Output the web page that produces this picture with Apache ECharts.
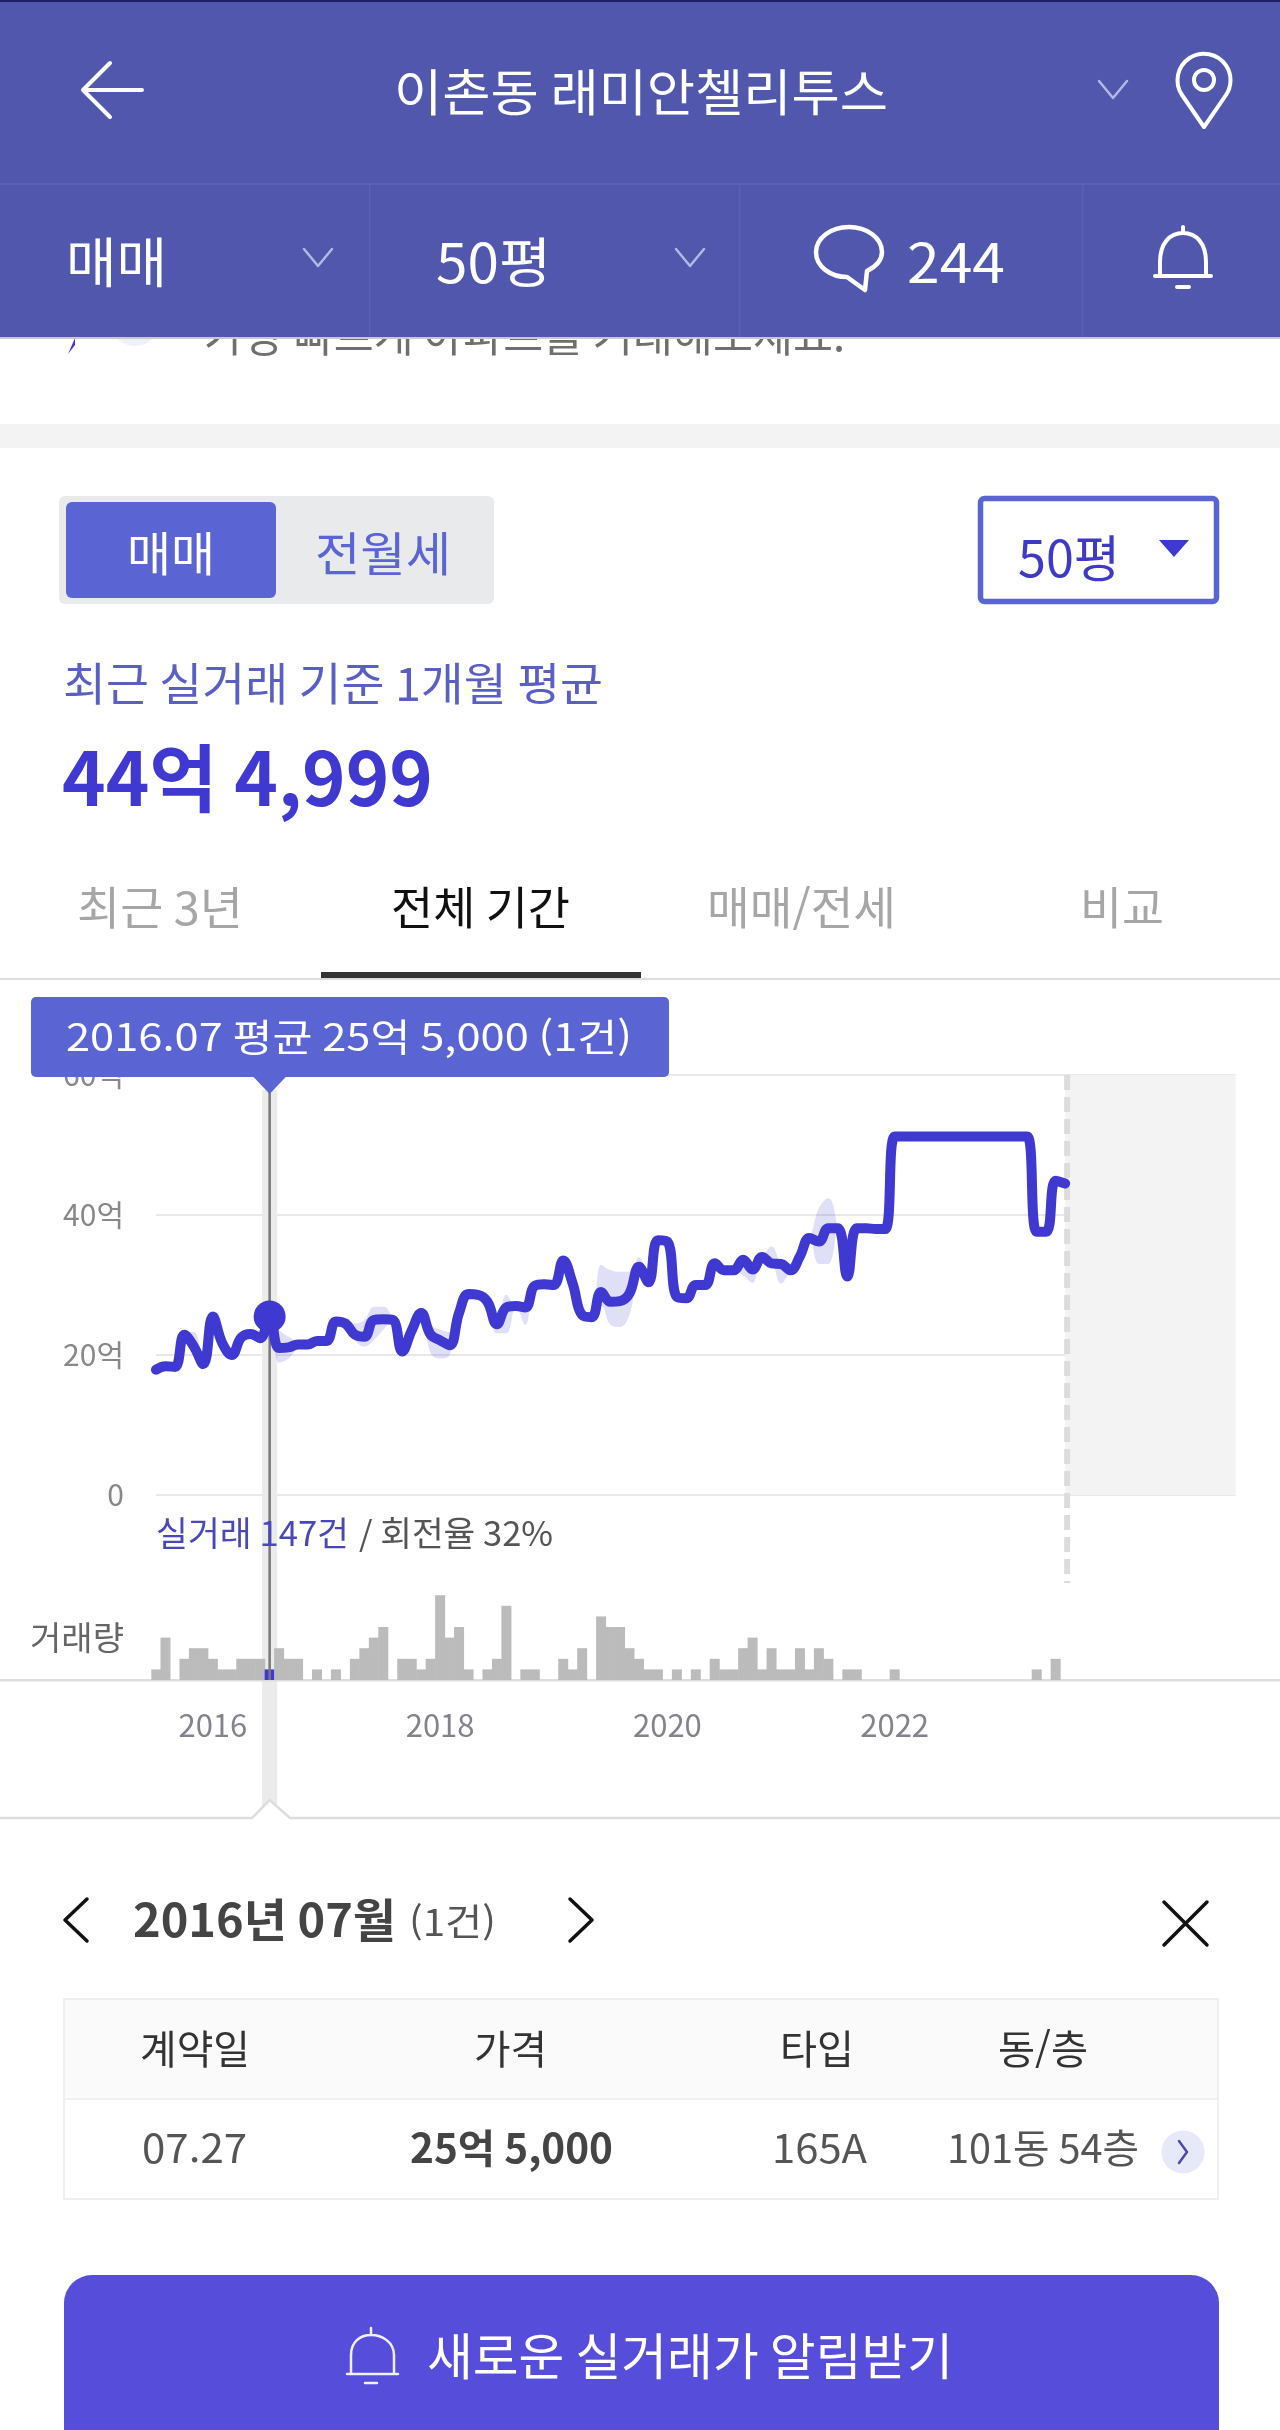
<!DOCTYPE html>
<html lang="ko">
<head>
<meta charset="utf-8">
<title>이촌동 래미안첼리투스</title>
<script src="https://cdn.jsdelivr.net/npm/echarts@6/dist/echarts.min.js"></script>
<style>html,body{margin:0;padding:0;background:#fff}#c{width:1280px;height:2430px}</style>
</head>
<body>
<div id="c"></div>
<script>
const FONT = '"Noto Sans CJK KR","Noto Sans",sans-serif';

const months = ['2015.07','2015.08','2015.09','2015.10','2015.11','2015.12',
  '2016.01','2016.02','2016.03','2016.04','2016.05','2016.06','2016.07','2016.08','2016.09','2016.10','2016.11','2016.12',
  '2017.01','2017.02','2017.03','2017.04','2017.05','2017.06','2017.07','2017.08','2017.09','2017.10','2017.11','2017.12',
  '2018.01','2018.02','2018.03','2018.04','2018.05','2018.06','2018.07','2018.08','2018.09','2018.10','2018.11','2018.12',
  '2019.01','2019.02','2019.03','2019.04','2019.05','2019.06','2019.07','2019.08','2019.09','2019.10','2019.11','2019.12',
  '2020.01','2020.02','2020.03','2020.04','2020.05','2020.06','2020.07','2020.08','2020.09','2020.10','2020.11','2020.12',
  '2021.01','2021.02','2021.03','2021.04','2021.05','2021.06','2021.07','2021.08','2021.09','2021.10','2021.11','2021.12',
  '2022.01','2022.02','2022.03','2022.04','2022.05','2022.06','2022.07','2022.08','2022.09','2022.10','2022.11','2022.12',
  '2023.01','2023.02','2023.03','2023.04','2023.05','2023.06','2023.07','2023.08','2023.09','2023.10','2023.11','2023.12',
  '2024.01','2024.02','2024.03','2024.04','2024.05','2024.06','2024.07','2024.08','2024.09','2024.10','2024.11','2024.12','2025.01'];

const yearTicks = ['2016.01','2018.01','2020.01','2022.01'];
const priceTicks = [0,20,40,60];

const price = [17.9,18.4,18.3,22.9,21.2,18.7,25.5,21.7,20,22.5,
  23,22.4,25.5,21,21.1,21.5,21.5,22,22,24.8,
  24.5,22.9,22.6,25,25.1,25,20.5,23.5,26,22.9,
  22.1,21.4,26,28.7,28.6,27.6,24.4,26.8,27,26.8,
  29.9,30.1,30,33.5,30.2,25.7,25.4,29,27.6,27.7,
  28.8,32.6,30.4,36.4,36.2,28.3,28.1,30,30,33.1,
  32.1,32.1,33.6,32.2,34,33.1,33,32.1,34.1,36.7,
  36.2,38.1,38.1,31.2,38.1,38.1,38,38,51.2,51.2,
  51.2,51.2,51.2,51.2,51.2,51.2,51.2,51.2,51.2,51.2,
  51.2,51.2,51.2,37.6,37.6,44.9,44.5];

const bandHigh = [17.9,18.4,18.3,23.3,23.3,19,25.5,21.7,20,22.5,
  23,23.7,25.5,23.6,22.6,21.9,21.5,22,22,24.8,
  24.5,24.5,25,26.9,26.9,25,20.5,23.5,26,24.3,
  23.6,23.3,26,28.7,28.6,27.6,24.4,28.6,27,26.8,
  29.9,30.1,30,33.5,30.2,25.7,25.4,32.9,32.1,31.9,
  31.9,34,30.4,36.4,36.2,28.3,28.1,30,30,33.1,
  32.1,32.1,33.6,32.9,34,35.5,33,32.1,35.5,36.7,
  41,42.4,38.1,31.2,38.1,38.1,38,38,51.2,51.2,
  51.2,51.2,51.2,51.2,51.2,51.2,51.2,51.2,51.2,51.2,
  51.2,51.2,51.2,37.6,37.6,44.9,44.5];

const bandLow = [17.9,18.4,18.3,22.9,20,18.4,25.5,21.7,20,22.5,
  23,21.6,25.5,18.9,19.5,21,21.5,22,22,24.8,
  24.5,22.1,21.2,22.1,23.6,25,20.5,23.5,26,20.3,
  19.5,20,26,28.7,28.6,27.6,23.1,23.1,27,24.3,
  29.9,30.1,30,33.5,30.2,25.7,25.4,27,24.3,24,
  25.7,31.2,30.4,36.4,36.2,28.3,28.1,30,30,33.1,
  32.1,32.1,31.4,30.3,34,33.3,30.2,32.1,34.1,36.7,
  33,33,38.1,31.2,38.1,38.1,38,38,51.2,51.2,
  51.2,51.2,51.2,51.2,51.2,51.2,51.2,51.2,51.2,51.2,
  51.2,51.2,51.2,37.6,37.6,44.9,44.5];

const volume = [1,4,0,2,3,3,2,1,1,2,
  2,2,1,3,2,2,0,1,0,1,
  0,2,3,4,5,0,2,2,1,2,
  8,4,5,1,0,1,2,7,0,1,
  1,0,0,2,1,3,0,6,5,5,
  3,2,1,1,0,1,0,1,0,2,
  1,1,3,4,1,3,1,1,3,1,
  3,2,0,1,1,0,0,0,1,0,
  0,0,0,0,0,0,0,0,0,0,
  0,0,0,1,0,2,0];

const selectedMonth = '2016.07';
const selectedPrice = 25.5;
const lastMonth = '2023.07';

const C = {blue:'#3f39d1', mid:'#5a64d2', head:'#5057ac', grid:'#e8e8e8', axis:'#888'};
const chart = echarts.init(document.getElementById('c'), null, {width:1280, height:2430});

const selIdx = months.indexOf(selectedMonth);
const SMOOTH = 0.42;
chart.setOption({
  animation:false,
  backgroundColor:'#fff',
  textStyle:{fontFamily:FONT},
  grid:[
    {left:156, top:1075, width:1079.6, height:420},
    {left:151.3, top:1574, width:1089, height:106}
  ],
  xAxis:[
    {type:'category', gridIndex:0, data:months, boundaryGap:false,
     axisLine:{show:false}, axisTick:{show:false}, axisLabel:{show:false}, splitLine:{show:false}},
    {type:'category', gridIndex:1, data:months, boundaryGap:true,
     axisLine:{show:false}, axisTick:{show:false}, splitLine:{show:false},
     axisLabel:{margin:30, fontSize:31, color:'#83838d', fontFamily:FONT,
       interval:(i,v)=>yearTicks.includes(v), formatter:v=>v.slice(0,4)}}
  ],
  yAxis:[
    {type:'value', gridIndex:0, min:priceTicks[0], max:priceTicks[3], interval:20,
     axisLine:{show:false}, axisTick:{show:false},
     splitLine:{show:true, lineStyle:{color:C.grid, width:2}},
     axisLabel:{margin:32, fontSize:30, color:C.axis, fontFamily:FONT, formatter:v=>v===0?'0':v+'억'}},
    {type:'value', gridIndex:1, min:0, max:10,
     axisLine:{show:false}, axisTick:{show:false}, axisLabel:{show:false}, splitLine:{show:false}}
  ],
  series:[
    {name:'low', type:'line', xAxisIndex:0, yAxisIndex:0, stack:'band', data:bandLow, smooth:SMOOTH, smoothConstraint:false,
     symbol:'none', lineStyle:{width:0, opacity:0}, silent:true, z:2,
     markArea:{silent:true, itemStyle:{color:'#f3f3f3'}, data:[[{xAxis:lastMonth},{xAxis:months[months.length-1]}]]}},
    {name:'range', type:'line', xAxisIndex:0, yAxisIndex:0, stack:'band', data:bandHigh.map((h,i)=>h-bandLow[i]), smooth:SMOOTH, smoothConstraint:false,
     symbol:'none', lineStyle:{width:0, opacity:0}, areaStyle:{color:C.blue, opacity:0.16}, silent:true, z:2},
    {name:'평균', type:'line', xAxisIndex:0, yAxisIndex:0, data:price, smooth:SMOOTH, smoothConstraint:false, symbol:'none',
     lineStyle:{color:C.blue, width:10, cap:'round', join:'round'}, z:4},
    {name:'선택', type:'scatter', xAxisIndex:0, yAxisIndex:0, data:[[selectedMonth,selectedPrice]],
     symbolSize:32, itemStyle:{color:C.blue, opacity:1}, z:6},
    {name:'거래량', type:'bar', xAxisIndex:1, yAxisIndex:1, barWidth:10, barGap:0, z:2,
     data:volume.map((v,i)=>i===selIdx?{value:v,itemStyle:{color:C.blue}}:v),
     itemStyle:{color:'#bbbbbb'}}
  ]
});

const selX = chart.convertToPixel({xAxisIndex:0}, selectedMonth);
const dashX = chart.convertToPixel({xAxisIndex:0}, lastMonth) + 2;

const meas = document.createElement('canvas').getContext('2d');
function T(text,x0,x1,yc,size,fill,weight,z){
  const w = weight||400;
  meas.font = w+' '+size+'px "Noto Sans CJK KR"';
  const m = meas.measureText(text).width;
  return {type:'text', x:x0, y:yc, scaleX:(x1-x0)/m, z:z||20, silent:true,
    style:{text, fill, fontSize:size, fontWeight:w, fontFamily:'Noto Sans CJK KR',
      align:'left', verticalAlign:'middle', textAlign:'left', textVerticalAlign:'middle'}};
}
function R(x,y,w,h,fill,r,z,stroke,lw){
  return {type:'rect', shape:{x,y,width:w,height:h,r:r||0}, z:z||10, silent:true,
    style:{fill:fill||'transparent', stroke:stroke||null, lineWidth:lw||0}};
}
let pathCount = 0;
function P(d,stroke,lw,z,fill){
  const name = 'icon'+(pathCount++);
  echarts.graphic.registerShape(name, echarts.graphic.extendPath(d, {}));
  return {type:name, z:z||20, silent:true,
    style:{stroke, lineWidth:lw, fill:fill||'transparent', lineCap:'round', lineJoin:'round'}};
}

const g = [];
// page under the header
g.push(T('가장 빠르게 아파트를 거래해보세요.',204,845,335,44,'#6f6f6f',400,5));
g.push({type:'polygon',shape:{points:[[68,354],[75,338],[75,345]]},z:5,silent:true,style:{fill:C.blue}});
g.push({type:'circle',shape:{cx:135,cy:322,r:24},z:5,silent:true,style:{fill:'#eef0fb'}});
g.push(R(0,424,1280,24,'#f3f3f3',0,5));

// header
g.push(R(0,0,1280,338,C.head,0,40));
g.push(R(0,0,1280,2,'#1f1f66',0,41));
g.push(R(0,183,1280,2,'#5a61b6',0,41));
[369,739,1082].forEach(x=>g.push(R(x,183,1.5,155,'#5a61b6',0,41)));
g.push(R(0,337,1280,2,'#c9c9d2',0,41));
g.push(P('M110 63 L83 90 L110 117 M84 90 L142 90','#fff',4,42));
g.push(T('이촌동 래미안첼리투스',394,888,92,50,'#fff',400,42));
const chev=(x,y)=>P(`M${x-14} ${y-9} L${x} ${y+8} L${x+14} ${y-9}`,'#b4b8e4',2.5,42);
g.push(chev(1113,90));
g.push(P('M1204 127 L1182 95 A26.5 26.5 0 1 1 1226 95 Z','#fff',4,42));
g.push({type:'circle',shape:{cx:1204,cy:80,r:10},z:42,silent:true,style:{stroke:'#fff',lineWidth:4,fill:'transparent'}});
g.push(T('매매',66,167,262,54,'#fff',400,42));
g.push(chev(318,258));
g.push(T('50평',436,551,262,54,'#fff',400,42));
g.push(chev(690,258));
g.push(P('M865 290 L867 271 C877 266 882 259 882 252 C882 238 867 227 849 227 C831 227 816 238 816 252 C816 267 831 277 847 277 Z','#fff',4.5,42));
g.push(T('244',907,1005,262,54,'#fff',400,42));
g.push(P('M1160 276 L1160 262 C1160 243 1170 233 1183 233 C1196 233 1206 243 1206 262 L1206 276 M1155 276 L1211 276 M1183 233 L1183 227 M1177 287 L1189 287','#fff',4,42));

// toggle + dropdown
g.push(R(59,496,435,108,'#e9eaec',6,10));
g.push(R(66,502,210,96,C.mid,6,11));
g.push(T('매매',127,215,553,47,'#fff',400,20));
g.push(T('전월세',315,451,553,47,C.mid,400,20));
g.push(R(980.5,498.5,236,103,'#fff',4,10,C.mid,5.5));
g.push(T('50평',1018,1120,558,50,'#3f39c8',400,20));
g.push({type:'polygon',shape:{points:[[1159,540],[1189,540],[1174,557]]},z:20,silent:true,style:{fill:C.blue}});

// summary
g.push(T('최근 실거래 기준 1개월 평균',63,603,684,45,'#5a5fc4',400,20));
g.push(T('44억 4,999',62,433,778,74,C.blue,700,20));

// tabs
g.push(T('최근 3년',77,243,908,45,'#a6a6a6',400,20));
g.push(T('전체 기간',391,570,908,45,'#111',400,20));
g.push(T('매매/전세',707,896,908,45,'#a6a6a6',400,20));
g.push(T('비교',1080,1164,908,45,'#a6a6a6',400,20));
g.push(R(0,978,1280,2,'#dddddd',0,10));
g.push(R(321,972,320,6,'#333',0,11));

// chart furniture
g.push(R(selX-7.5,1090,15,718,'#ebebeb',0,1));
g.push(R(selX-1.25,1090,2.5,590,'#787878',0,3));
g.push(T('실거래 147건',156,349,1533,34,'#4a47b8',400,8));
g.push(T('/ 회전율 32%',359,553,1533,34,'#555',400,8));
g.push(T('거래량',30,124,1637,33,'#666',400,20));
for(let y=1075;y<1583;y+=22){g.push(R(dashX-3,y,6,Math.min(15,1583-y),'#dcdcdc',0,3));}
g.push(R(0,1679,1280,2.5,'#dddddd',0,1));
g.push({type:'polygon',shape:{points:[[252,1819],[selX,1800],[290,1819]]},z:4,silent:true,style:{fill:'#fff'}});
g.push({type:'polyline',shape:{points:[[0,1818],[252,1818],[selX,1800],[290,1818],[1280,1818]]},z:5,silent:true,style:{stroke:'#dddddd',lineWidth:2.5,fill:'transparent'}});

// tooltip
g.push(R(31,997,638,80,C.mid,5,30));
g.push({type:'polygon',shape:{points:[[selX-17,1076],[selX+17,1076],[selX,1094]]},z:30,silent:true,style:{fill:C.mid}});
g.push(T(selectedMonth+' 평균 25억 5,000 (1건)',66,632,1037,38,'#fff',400,31));

// detail
g.push(P('M87 1899 L65 1920 L87 1941','#111',3.5));
g.push(T('2016년 07월',133,396,1920,46,'#444',700));
g.push(T('(1건)',409,496,1922,37,'#555',400));
g.push(P('M570 1899 L592 1920 L570 1941','#111',3.5));
g.push(P('M1164 1902 L1207 1945 M1207 1902 L1164 1945','#111',3.5));
g.push(R(64,1999,1154,100,'#fafafa',0,10));
g.push(R(64,1999,1154,200,'transparent',0,11,'#efefef',2));
g.push(R(64,2098,1154,2,'#efefef',0,11));
g.push(T('계약일',140,250,2049,40,'#333'));
g.push(T('가격',474,547,2049,40,'#333'));
g.push(T('타입',780,854,2049,40,'#333'));
g.push(T('동/층',998,1088,2049,40,'#333'));
g.push(T('07.27',142,247,2148,40,'#555'));
g.push(T('25억 5,000',410,613,2148,40,'#444',700));
g.push(T('165A',772,867,2148,40,'#555'));
g.push(T('101동 54층',947,1139,2148,40,'#555'));
g.push({type:'circle',shape:{cx:1183,cy:2152,r:21.5},z:12,silent:true,style:{fill:'#e8e9f8'}});
g.push(P('M1179 2141 L1187 2152 L1179 2163','#4a47b8',2.5,13));

// button
g.push(R(64,2275,1155,240,'#574ddb',28,10));
g.push(P('M351 2374 L351 2355 C351 2342 360 2335 371 2335 C382 2335 394 2342 394 2355 L394 2374 M347 2374 L398 2374 M371 2335 L371 2328 M365 2383 L377 2383','#f0f0ff',2.5,20));
g.push(T('새로운 실거래가 알림받기',427,953,2356,50,'#fff'));

chart.setOption({graphic:{elements:g}});
</script>
</body>
</html>
